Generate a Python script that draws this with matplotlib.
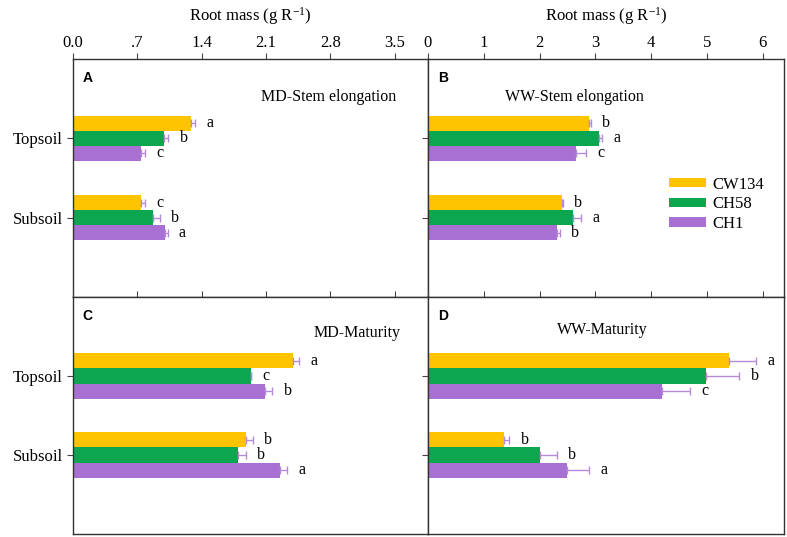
import matplotlib
matplotlib.use("Agg")
import matplotlib.pyplot as plt
import numpy as np

# data
soils = ["Topsoil", "Subsoil"]
cultivars = ["CW134", "CH58", "CH1"]
colors = ["#FFC400", "#0BA64E", "#A870D2"]
err_color = "#B58AD8"

# panel A: MD-Stem elongation (rows = cultivar, cols = soil)
md_stem = [[1.29, 0.74], [0.99, 0.87], [0.74, 1.00]]
md_stem_err = [[0.04, 0.05], [0.05, 0.08], [0.05, 0.03]]
md_stem_let = [["a", "c"], ["b", "b"], ["c", "a"]]

# panel B: WW-Stem elongation
ww_stem = [[2.89, 2.40], [3.07, 2.60], [2.66, 2.31]]
ww_stem_err = [[0.03, 0.02], [0.05, 0.14], [0.18, 0.06]]
ww_stem_let = [["b", "b"], ["a", "a"], ["c", "b"]]

# panel C: MD-Maturity
md_mat = [[2.39, 1.88], [1.94, 1.80], [2.09, 2.25]]
md_mat_err = [[0.07, 0.08], [0.0, 0.08], [0.08, 0.08]]
md_mat_let = [["a", "b"], ["c", "b"], ["b", "a"]]

# panel D: WW-Maturity
ww_mat = [[5.39, 1.36], [4.98, 2.01], [4.20, 2.50]]
ww_mat_err = [[0.49, 0.10], [0.60, 0.30], [0.50, 0.39]]
ww_mat_let = [["a", "b"], ["b", "b"], ["c", "a"]]

serif = "Liberation Serif"
plt.rcParams["font.family"] = serif
plt.rcParams["mathtext.default"] = "regular"

fig = plt.figure(figsize=(7.87, 5.37), dpi=100)

W, H = 787.0, 537.0
xl, xm, xr = 72.7, 428.0, 784.0
yt, ym, yb = 59.0, 297.0, 534.0

def make_ax(x0, x1, y0, y1):
    return fig.add_axes([x0 / W, 1 - y1 / H, (x1 - x0) / W, (y1 - y0) / H])

axA = make_ax(xl, xm, yt, ym)
axB = make_ax(xm, xr, yt, ym)
axC = make_ax(xl, xm, ym, yb)
axD = make_ax(xm, xr, ym, yb)

bar_h = 0.19
ypos = np.array([1.0, 2.0])

def draw(ax, vals, errs, lets, title, tx, ty, letter, left_axis, show_labels):
    for i in range(3):
        y = ypos + (i - 1) * bar_h
        v = np.array(vals[i])
        e = np.array(errs[i])
        ax.barh(y, v, height=bar_h, color=colors[i], label=cultivars[i],
                xerr=[np.zeros(2), e], ecolor=err_color,
                error_kw=dict(elinewidth=1, capsize=3, capthick=1))
        for j in range(2):
            ax.annotate(lets[i][j], (v[j] + e[j], y[j]), xytext=(8, 0),
                        textcoords="offset points", ha="left", va="center",
                        fontsize=11.5, fontfamily=serif)
    ax.set_ylim(3, 0)
    if left_axis:
        ax.set_xlim(0, 3.86)
        ax.set_xticks([0, 0.7, 1.4, 2.1, 2.8, 3.5])
        ax.set_xticklabels(["0.0", ".7", "1.4", "2.1", "2.8", "3.5"])
    else:
        ax.set_xlim(0, 6.38)
        ax.set_xticks(range(7))
    ax.xaxis.tick_top()
    ax.tick_params(axis="x", direction="out", length=4, width=0.8,
                   labelsize=12, labeltop=show_labels, pad=2, color="#444444")
    ax.set_yticks(ypos)
    ax.tick_params(axis="y", direction="out", length=4, width=0.8,
                   labelsize=12, pad=3, color="#444444")
    if left_axis:
        ax.set_yticklabels(soils)
    else:
        ax.set_yticklabels([])
    for s in ax.spines.values():
        s.set_linewidth(1.0)
        s.set_color("#333333")
    ax.text(tx, ty, title, transform=ax.transAxes, ha="center", va="center",
            fontsize=11.5, fontfamily=serif)
    ax.text(0.028, 0.92, letter, transform=ax.transAxes, ha="left", va="center",
            fontsize=10, fontweight="bold", fontfamily="Liberation Sans")

draw(axA, md_stem, md_stem_err, md_stem_let, "MD-Stem elongation", 0.72, 0.84, "A", True, True)
draw(axB, ww_stem, ww_stem_err, ww_stem_let, "WW-Stem elongation", 0.41, 0.84, "B", False, True)
draw(axC, md_mat, md_mat_err, md_mat_let, "MD-Maturity", 0.80, 0.85, "C", True, False)
draw(axD, ww_mat, ww_mat_err, ww_mat_let, "WW-Maturity", 0.49, 0.86, "D", False, False)

for ax in (axA, axB):
    ax.set_xlabel("Root mass (g R$^{-1}$)", fontsize=12, labelpad=10)
    ax.xaxis.set_label_position("top")

axB.legend(loc="center left", bbox_to_anchor=(0.635, 0.39), frameon=False,
           fontsize=12, handlelength=2.2, handleheight=0.5, labelspacing=0.22,
           handletextpad=0.4)

fig.savefig("out.png", dpi=100)
